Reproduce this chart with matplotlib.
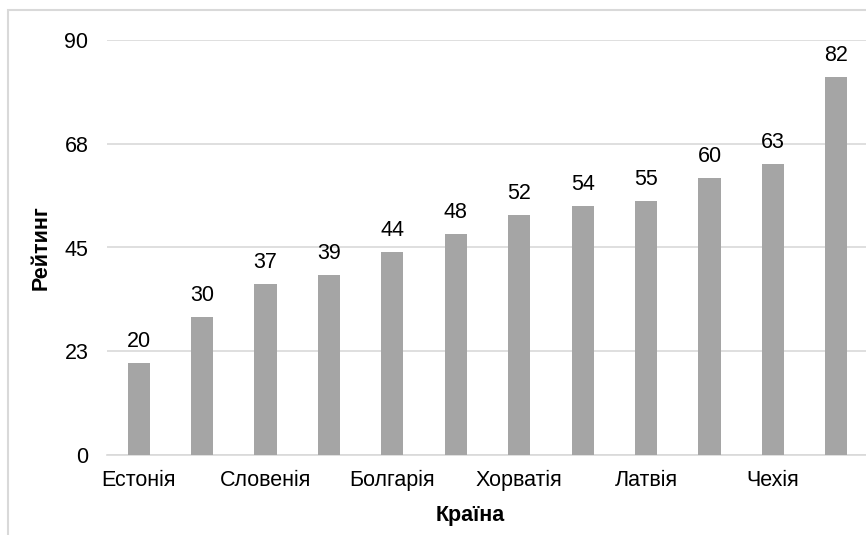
import matplotlib.pyplot as plt
from matplotlib.patches import Rectangle

plt.rcParams['font.family'] = ['Liberation Sans', 'DejaVu Sans']

# Data
countries = ["Естонія", "Литва", "Словенія", "Румунія", "Болгарія", "Словаччина",
             "Хорватія", "Польща", "Латвія", "Угорщина", "Чехія", "Німеччина"]
ratings = [20, 30, 37, 39, 44, 48, 52, 54, 55, 60, 63, 82]
y_ticks = [0, 22.5, 45, 67.5, 90]
y_tick_labels = ["0", "23", "45", "68", "90"]

W, H = 866, 535
FS = 15.5
fig = plt.figure(figsize=(W / 100, H / 100), dpi=100)

# Outer chart border (cropped on right and bottom)
fig.patches.append(Rectangle((8 / W, -0.1), 1.2, 1 - 10 / H + 0.1, transform=fig.transFigure,
                             fill=False, edgecolor="#d9d9d9", linewidth=1.5))

# Plot area in pixels: left 107, right 868, top 40 (y=90), bottom 455 (y=0)
L, R, T, B = 107, 868, 40, 455
ax = fig.add_axes([L / W, (H - B) / H, (R - L) / W, (B - T) / H])

x = list(range(len(countries)))
bars = ax.bar(x, ratings, width=0.35, color="#a5a5a5", zorder=3)

for xi, v in zip(x, ratings):
    ax.annotate(str(v), (xi, v), xytext=(0, 8), textcoords="offset points",
                ha="center", va="bottom", fontsize=FS, color="#000000")

ax.set_xlim(-0.5, len(countries) - 0.5)
ax.set_ylim(0, 90)
ax.set_yticks(y_ticks)
ax.set_yticklabels(y_tick_labels)
ax.set_xticks(x[::2])
ax.set_xticklabels(countries[::2])

ax.yaxis.grid(True, color="#d9d9d9", linewidth=1.2, zorder=0)
ax.set_axisbelow(True)
for s in ["top", "right", "left"]:
    ax.spines[s].set_visible(False)
ax.spines["bottom"].set_color("#d9d9d9")
ax.spines["bottom"].set_linewidth(1.2)
ax.tick_params(axis="both", length=0, labelsize=FS, colors="#000000")
ax.tick_params(axis="y", pad=13.5)
ax.tick_params(axis="x", pad=11)

ax.set_ylabel("Рейтинг", fontsize=FS, fontweight="bold")
ax.yaxis.set_label_coords(-(L - 52) / (R - L), 0.5)
ax.set_xlabel("Країна", fontsize=FS, fontweight="bold")
ax.xaxis.set_label_coords((470 - L) / (R - L), -(505 - B) / (B - T))

fig.savefig("out.png", dpi=100)
